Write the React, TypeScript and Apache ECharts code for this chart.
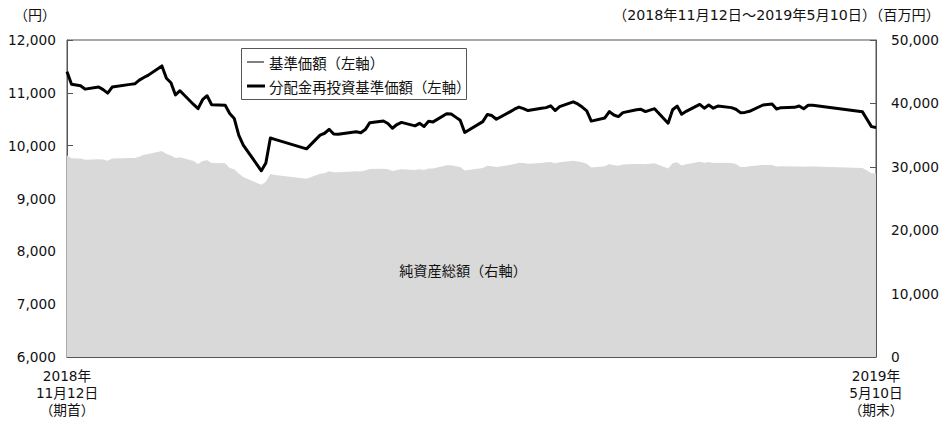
import React, { useEffect, useRef } from "react";
import * as echarts from "echarts";

const dates: string[] = [
  "2018-11-12","2018-11-13","2018-11-14","2018-11-15","2018-11-16","2018-11-19","2018-11-20","2018-11-21","2018-11-22","2018-11-26",
  "2018-11-27","2018-11-28","2018-11-29","2018-11-30","2018-12-03","2018-12-04","2018-12-05","2018-12-06","2018-12-07","2018-12-10",
  "2018-12-11","2018-12-12","2018-12-13","2018-12-14","2018-12-17","2018-12-18","2018-12-19","2018-12-20","2018-12-21","2018-12-25",
  "2018-12-26","2018-12-27","2018-12-28","2019-01-04","2019-01-07","2019-01-08","2019-01-09","2019-01-10","2019-01-11","2019-01-15",
  "2019-01-16","2019-01-17","2019-01-18","2019-01-21","2019-01-22","2019-01-23","2019-01-24","2019-01-25","2019-01-28","2019-01-29",
  "2019-01-30","2019-01-31","2019-02-01","2019-02-04","2019-02-05","2019-02-06","2019-02-07","2019-02-08","2019-02-12","2019-02-13",
  "2019-02-14","2019-02-15","2019-02-18","2019-02-19","2019-02-20","2019-02-21","2019-02-22","2019-02-25","2019-02-26","2019-02-27",
  "2019-02-28","2019-03-01","2019-03-04","2019-03-05","2019-03-06","2019-03-07","2019-03-08","2019-03-11","2019-03-12","2019-03-13",
  "2019-03-14","2019-03-15","2019-03-18","2019-03-19","2019-03-20","2019-03-22","2019-03-25","2019-03-26","2019-03-27","2019-03-28",
  "2019-03-29","2019-04-01","2019-04-02","2019-04-03","2019-04-04","2019-04-05","2019-04-08","2019-04-09","2019-04-10","2019-04-11",
  "2019-04-12","2019-04-15","2019-04-16","2019-04-17","2019-04-18","2019-04-19","2019-04-22","2019-04-23","2019-04-24","2019-04-25",
  "2019-04-26","2019-05-07","2019-05-08","2019-05-09","2019-05-10",
];

// 基準価額（円）
const navPrice: number[] = [
  11400,11162,11150,11135,11070,11110,11060,10995,11110,11160,
  11170,11240,11290,11335,11510,11275,11190,10960,11040,10780,
  10700,10870,10945,10775,10765,10610,10515,10200,10010,9525,
  9670,10145,10120,9940,10200,10235,10310,10220,10215,10265,
  10245,10305,10435,10467,10420,10330,10400,10440,10375,10422,
  10365,10460,10450,10605,10600,10540,10480,10250,10455,10590,
  10570,10500,10640,10690,10730,10700,10665,10710,10720,10755,
  10665,10740,10830,10790,10730,10660,10465,10525,10645,10580,
  10550,10625,10680,10688,10645,10700,10425,10680,10750,10595,
  10650,10780,10710,10770,10710,10750,10720,10690,10625,10630,
  10650,10770,10780,10790,10695,10720,10725,10750,10700,10765,
  10765,10640,10500,10360,10345,
];

// 分配金再投資基準価額（円）— no distribution in the period, identical to 基準価額
const reinvestedPrice: number[] = [...navPrice];

// 純資産総額（百万円）
const netAssets: number[] = [
  31800,31350,31300,31300,31100,31200,31150,30950,31300,31400,
  31400,31600,31900,32000,32500,32000,31800,31400,31500,30900,
  30450,30900,31050,30600,30550,29800,29600,28950,28400,27150,
  27650,28850,28700,28100,28900,29000,29300,29150,29150,29300,
  29250,29400,29650,29700,29600,29350,29500,29600,29500,29600,
  29500,29750,29750,30250,30250,30100,29950,29400,29800,30150,
  30100,29950,30300,30450,30650,30600,30500,30600,30700,30750,
  30550,30700,30950,30850,30700,30500,29900,30100,30450,30250,
  30150,30350,30450,30450,30400,30550,29750,30550,30700,30200,
  30400,30800,30650,30750,30600,30650,30600,30450,29950,29950,
  30100,30300,30300,30300,30050,30100,30050,30050,30000,30050,
  30050,29800,29400,29000,28950,
];

const leftTicks = { min: 6000, max: 12000, interval: 1000 };
const rightTicks = { min: 0, max: 50000, interval: 10000 };
const startLabel = "2018年\n11月12日\n（期首）";
const endLabel = "2019年\n5月10日\n（期末）";
const legendNames = ["基準価額（左軸）", "分配金再投資基準価額（左軸）"];

const FONT = "'DejaVu Sans', 'Noto Sans CJK JP', sans-serif";
const CJK = "'Noto Sans CJK JP', 'DejaVu Sans', sans-serif";

function dayIndex(d: string): number {
  const [y, m, dd] = d.split("-").map(Number);
  const [y0, m0, d0] = dates[0].split("-").map(Number);
  return Math.round((Date.UTC(y, m - 1, dd) - Date.UTC(y0, m0 - 1, d0)) / 86400000);
}

export default function App() {
  const ref = useRef<HTMLDivElement>(null);
  useEffect(() => {
    if (!ref.current) return;
    const chart = echarts.init(ref.current, null, { renderer: "svg" });
    const xs = dates.map(dayIndex);
    const lastDay = xs[xs.length - 1];
    const fmt = (v: number) => v.toLocaleString("en-US");
    chart.setOption({
      animation: false,
      grid: { left: 67, right: 69, top: 40, bottom: 66, show: true, borderColor: "#555", borderWidth: 1, backgroundColor: "transparent" },
      xAxis: {
        type: "value",
        min: 0,
        max: lastDay,
        interval: lastDay,
        axisLine: { show: true, lineStyle: { color: "#555", width: 1 } },
        axisTick: { show: false },
        splitLine: { show: false },
        axisLabel: {
          margin: 10,
          fontSize: 13.7,
          lineHeight: 17,
          color: "#111",
          fontFamily: FONT,
          formatter: (v: number) => (v === 0 ? startLabel : v === lastDay ? endLabel : ""),
        },
      },
      yAxis: [
        {
          type: "value",
          position: "left",
          ...leftTicks,
          axisLine: { show: true, lineStyle: { color: "#555" } },
          axisTick: { show: true, inside: true, length: 6, lineStyle: { color: "#555" } },
          splitLine: { show: false },
          axisLabel: { margin: 11, fontSize: 13.7, color: "#111", fontFamily: FONT, formatter: fmt },
        },
        {
          type: "value",
          position: "right",
          ...rightTicks,
          axisLine: { show: true, lineStyle: { color: "#555" } },
          axisTick: { show: true, inside: true, length: 6, lineStyle: { color: "#555" } },
          splitLine: { show: false },
          axisLabel: { margin: 15, fontSize: 13.7, color: "#111", fontFamily: FONT, formatter: fmt },
        },
      ],
      series: [
        {
          name: "純資産総額（右軸）",
          type: "line",
          yAxisIndex: 1,
          data: xs.map((x, i) => [x, netAssets[i]]),
          symbol: "none",
          lineStyle: { width: 0, color: "#d9d9d9" },
          itemStyle: { color: "#d9d9d9" },
          areaStyle: { color: "#d9d9d9", opacity: 1 },
          z: 1,
        },
        {
          name: legendNames[0],
          type: "line",
          yAxisIndex: 0,
          data: xs.map((x, i) => [x, navPrice[i]]),
          symbol: "none",
          lineStyle: { width: 1, color: "#000" },
          itemStyle: { color: "#000" },
          z: 2,
        },
        {
          name: legendNames[1],
          type: "line",
          yAxisIndex: 0,
          data: xs.map((x, i) => [x, reinvestedPrice[i]]),
          symbol: "none",
          lineStyle: { width: 3, color: "#000", join: "round" },
          itemStyle: { color: "#000" },
          z: 3,
        },
      ],
      graphic: [
        { type: "text", left: 14, top: 7, style: { text: "（円）", fontSize: 14, fill: "#111", fontFamily: CJK } },
        { type: "text", right: 5, top: 8, style: { text: "（2018年11月12日～2019年5月10日）（百万円）", fontSize: 14.2, fill: "#111", fontFamily: FONT } },
        { type: "text", x: 463, y: 270, z: 10, style: { text: "純資産総額（右軸）", fontSize: 14.2, fill: "#111", fontFamily: CJK, align: "center", verticalAlign: "middle" } },
        {
          type: "group",
          x: 241,
          y: 48,
          z: 20,
          children: [
            { type: "rect", shape: { x: 0.5, y: 0.5, width: 225, height: 51 }, style: { fill: "#fff", stroke: "#555", lineWidth: 1 } },
            { type: "line", shape: { x1: 6, y1: 14, x2: 23, y2: 14 }, style: { stroke: "#000", lineWidth: 1 } },
            { type: "line", shape: { x1: 6, y1: 38, x2: 24, y2: 38 }, style: { stroke: "#000", lineWidth: 3 } },
            { type: "text", x: 28, y: 14, style: { text: legendNames[0], fontSize: 14.4, fill: "#111", fontFamily: CJK, verticalAlign: "middle" } },
            { type: "text", x: 28, y: 38, style: { text: legendNames[1], fontSize: 14.4, fill: "#111", fontFamily: CJK, verticalAlign: "middle" } },
          ],
        },
      ],
    });
    return () => chart.dispose();
  }, []);
  return <div ref={ref} style={{ width: 945, height: 423, position: "absolute", left: 0, top: 0 }} />;
}
